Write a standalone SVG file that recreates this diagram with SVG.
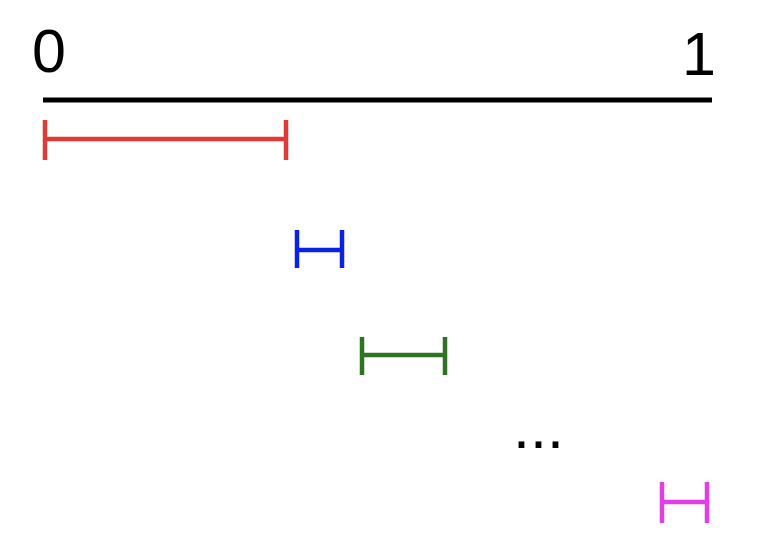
<svg xmlns="http://www.w3.org/2000/svg" width="772" height="556" viewBox="0 0 772 556">
<style>
.lbl{font-family:"Liberation Sans",Arial,sans-serif;font-size:61px;fill:#000}
.seg{fill:none;stroke-width:4.5;stroke-linecap:butt}
</style>
<rect width="772" height="556" fill="#fff"/>
<g id="axis">
<line x1="43" y1="100" x2="712" y2="100" stroke="#000" stroke-width="5"/>
<text class="lbl" x="32" y="72">0</text>
<text class="lbl" x="682" y="75">1</text>
</g>
<g id="connectors">
<g id="seg-red" stroke="#e03a33">
<path class="seg" d="M45 120V160M45 139H286M286 120V160"/>
</g>
<g id="seg-blue" stroke="#0a22e6">
<path class="seg" d="M297 230V268M297 250H342M342 230V268"/>
</g>
<g id="seg-green" stroke="#2e7322">
<path class="seg" d="M362 337V375M362 355H445M445 337V375"/>
</g>
<g id="seg-magenta" stroke="#e33ee6">
<path class="seg" d="M662 482V523M662 502H707M707 482V523"/>
</g>
</g>
<g id="ellipsis">
<text class="lbl" x="513" y="448">...</text>
</g>
</svg>
